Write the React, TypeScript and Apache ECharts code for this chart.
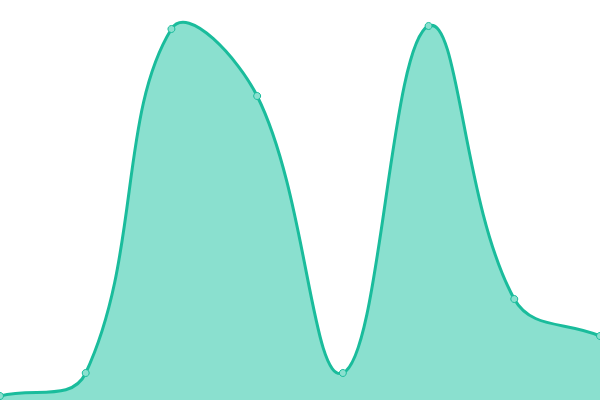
import * as echarts from 'echarts'
import { useEffect, useRef } from 'react'

const categories = ['A', 'B', 'C', 'D', 'E', 'F', 'G', 'H']
const values = [4, 27, 371, 304, 27, 374, 101, 64]

const LINE = '#1abc9c'
const FILL = '#8ae0cf'
const TENSION = 0.4

type Pt = number[]

// spline control points (same weighting as a tension-0.4 cardinal curve)
function buildPath(pts: Pt[]) {
  const ctrl = pts.map((cur, i) => {
    const prev = pts[i - 1] || cur
    const next = pts[i + 1] || cur
    const d01 = Math.hypot(cur[0] - prev[0], cur[1] - prev[1])
    const d12 = Math.hypot(next[0] - cur[0], next[1] - cur[1])
    let s01 = d01 / (d01 + d12)
    let s12 = d12 / (d01 + d12)
    s01 = isNaN(s01) ? 0 : s01
    s12 = isNaN(s12) ? 0 : s12
    const fa = TENSION * s01
    const fb = TENSION * s12
    return {
      prev: [cur[0] - fa * (next[0] - prev[0]), cur[1] - fa * (next[1] - prev[1])],
      next: [cur[0] + fb * (next[0] - prev[0]), cur[1] + fb * (next[1] - prev[1])],
    }
  })
  let d = `M ${pts[0][0]} ${pts[0][1]}`
  for (let i = 1; i < pts.length; i++) {
    const a = ctrl[i - 1].next
    const b = ctrl[i].prev
    d += ` C ${a[0]} ${a[1]} ${b[0]} ${b[1]} ${pts[i][0]} ${pts[i][1]}`
  }
  return d
}

const App: React.FC = () => {
  const chartRef = useRef<HTMLDivElement>(null)

  useEffect(() => {
    if (!chartRef.current) return
    const chart = echarts.init(chartRef.current, undefined, { renderer: 'svg' })

    chart.setOption({
      animation: false,
      grid: { left: 0, right: 0, top: 0, bottom: 0 },
      xAxis: {
        type: 'category',
        data: categories,
        boundaryGap: false,
        show: false,
      },
      yAxis: {
        type: 'value',
        min: 0,
        max: 400,
        show: false,
      },
      series: [
        {
          type: 'custom',
          data: values.map((v, i) => [i, v]),
          encode: { x: 0, y: 1 },
          clip: false,
          silent: true,
          renderItem: (params: any, api: any) => {
            if (params.dataIndex !== 0) return null
            const pts = values.map((v, i) => api.coord([i, v]))
            const base = api.coord([0, 0])[1]
            const line = buildPath(pts)
            const last = pts[pts.length - 1]
            const area = `${line} L ${last[0]} ${base} L ${pts[0][0]} ${base} Z`
            return {
              type: 'group',
              children: [
                {
                  type: 'path',
                  shape: { pathData: area },
                  style: { fill: FILL, stroke: 'none' },
                },
                {
                  type: 'path',
                  shape: { pathData: line },
                  style: { fill: 'none', stroke: LINE, lineWidth: 3 },
                },
              ],
            }
          },
        },
        {
          type: 'scatter',
          data: values,
          symbol: 'circle',
          symbolSize: 7,
          z: 5,
          itemStyle: { color: FILL, borderColor: LINE, borderWidth: 1, opacity: 1 },
        },
      ],
    })

    return () => {
      chart.dispose()
    }
  }, [])

  return (
    <div
      ref={chartRef}
      style={{ position: 'absolute', left: 0, top: 0, width: 600, height: 400 }}
    />
  )
}

export default App
